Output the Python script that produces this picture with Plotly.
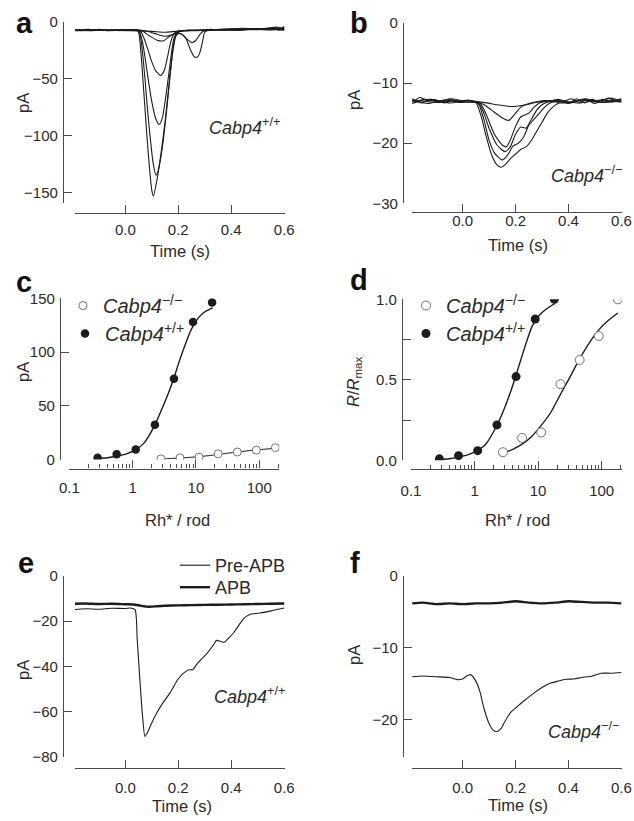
import plotly.graph_objects as go

W, H = 634, 821

# ---------------- data ----------------
# Panel a: Cabp4+/+ flash responses (time s, current pA)
a1_t = [-0.19, -0.15, -0.1, -0.05, 0.0, 0.04, 0.05, 0.06, 0.07, 0.08, 0.09, 0.1, 0.106, 0.12, 0.135, 0.15, 0.165, 0.178, 0.19, 0.2, 0.215, 0.23, 0.245, 0.26, 0.27, 0.28, 0.29, 0.3, 0.32, 0.36, 0.4, 0.45, 0.5, 0.55, 0.58, 0.6]
a1_v = [-7, -7.5, -6.5, -7.5, -7, -7, -9, -30, -62, -95, -125, -148, -153, -138, -115, -88, -55, -28, -13, -10, -11, -15, -24, -30.5, -31, -28, -19, -9, -6.5, -7, -6, -5.5, -6.5, -5, -7, -4]
a2_t = [-0.19, -0.14, -0.09, -0.04, 0.01, 0.045, 0.055, 0.065, 0.075, 0.085, 0.095, 0.105, 0.116, 0.125, 0.14, 0.155, 0.17, 0.182, 0.192, 0.205, 0.22, 0.235, 0.25, 0.265, 0.28, 0.295, 0.33, 0.38, 0.43, 0.48, 0.53, 0.57, 0.6]
a2_v = [-7.5, -6.5, -7.5, -6.8, -7.3, -7, -10, -27, -52, -80, -104, -124, -134.5, -130, -110, -80, -45, -20, -11, -10, -12, -15.5, -18, -16.5, -11.5, -8, -7, -6.2, -7, -5.8, -6, -4.5, -6.5]
a3_t = [-0.19, -0.13, -0.07, -0.01, 0.05, 0.065, 0.075, 0.085, 0.1, 0.115, 0.128, 0.14, 0.155, 0.17, 0.182, 0.195, 0.21, 0.26, 0.32, 0.38, 0.44, 0.5, 0.56, 0.6]
a3_v = [-6.8, -7.6, -7, -7.4, -7.5, -18, -32, -48, -70, -85, -90, -84, -62, -35, -16, -9, -7.5, -7.2, -6.6, -7.2, -6, -6.8, -5.5, -5]
a4_t = [-0.19, -0.12, -0.06, 0.0, 0.055, 0.07, 0.085, 0.1, 0.115, 0.134, 0.148, 0.16, 0.172, 0.185, 0.2, 0.25, 0.31, 0.37, 0.43, 0.49, 0.55, 0.6]
a4_v = [-7.2, -6.7, -7.6, -7, -7.5, -14, -24, -35, -43, -47, -42, -30, -17, -10, -8, -7.5, -7, -6.5, -6.8, -5.8, -6.5, -5.5]
a5_t = [-0.19, -0.11, -0.03, 0.06, 0.09, 0.12, 0.145, 0.17, 0.2, 0.22, 0.28, 0.34, 0.4, 0.46, 0.52, 0.6]
a5_v = [-7.4, -7, -7.3, -7.5, -12, -16, -16.5, -12, -8.5, -7.5, -7.2, -7, -6.3, -6.6, -6, -6.8]
a6_t = [-0.19, -0.1, -0.02, 0.07, 0.11, 0.15, 0.18, 0.21, 0.24, 0.3, 0.36, 0.42, 0.48, 0.54, 0.6]
a6_v = [-6.9, -7.5, -6.9, -7.5, -10, -12.5, -11, -8, -7, -7.6, -6.8, -7.2, -6.2, -6.9, -5.8]
a7_t = [-0.19, -0.08, 0.02, 0.1, 0.15, 0.2, 0.27, 0.35, 0.43, 0.51, 0.6]
a7_v = [-7.6, -7.1, -7.6, -8.2, -9, -8, -7.6, -6.8, -7.3, -6.4, -7.2]

# Panel b: Cabp4-/- flash responses
b1_t = [-0.19, -0.16, -0.13, -0.1, -0.07, -0.04, -0.01, 0.02, 0.05, 0.07, 0.09, 0.11, 0.13, 0.145, 0.16, 0.18, 0.2, 0.22, 0.24, 0.26, 0.28, 0.3, 0.32, 0.34, 0.36, 0.38, 0.41, 0.44, 0.47, 0.5, 0.53, 0.56, 0.6]
b1_v = [-13.2, -12.4, -13, -12.8, -13.3, -12.9, -13.1, -12.9, -13.2, -15.5, -19, -22, -23.6, -24, -23.6, -22.6, -21.8, -21, -20.6, -19.5, -18, -16.5, -15, -14, -13.4, -13.1, -12.6, -13.2, -12.8, -13.4, -12.7, -13.1, -12.8]
b2_t = [-0.19, -0.155, -0.12, -0.085, -0.05, -0.015, 0.02, 0.06, 0.08, 0.1, 0.12, 0.15, 0.17, 0.19, 0.21, 0.23, 0.25, 0.27, 0.29, 0.31, 0.33, 0.37, 0.4, 0.43, 0.46, 0.49, 0.52, 0.55, 0.58, 0.6]
b2_v = [-12.6, -13.3, -12.7, -13.1, -12.6, -13.2, -12.8, -13.5, -16, -19.5, -21.6, -22.8, -22, -20.5, -20, -19, -17, -16, -15, -14, -13.3, -12.9, -13.4, -12.6, -13.3, -12.7, -13.2, -12.5, -13, -12.7]
b3_t = [-0.19, -0.14, -0.09, -0.04, 0.01, 0.06, 0.08, 0.1, 0.13, 0.16, 0.18, 0.2, 0.22, 0.24, 0.26, 0.28, 0.3, 0.32, 0.36, 0.41, 0.46, 0.51, 0.56, 0.6]
b3_v = [-13.4, -12.7, -13.2, -12.6, -13.1, -13.3, -15, -17.5, -20.3, -21.4, -20.6, -18.5, -17.3, -17.5, -16, -14.5, -13.6, -13.2, -12.7, -13.3, -12.6, -13, -12.5, -13.1]
b4_t = [-0.19, -0.13, -0.07, -0.01, 0.065, 0.09, 0.12, 0.15, 0.165, 0.18, 0.2, 0.22, 0.25, 0.27, 0.29, 0.34, 0.4, 0.46, 0.52, 0.6]
b4_v = [-12.9, -13.4, -12.8, -13.2, -13.3, -15.3, -18.5, -20.3, -20.6, -19.5, -17.2, -15.6, -15, -14, -13.3, -12.9, -13.3, -12.7, -13.2, -12.6]
b5_t = [-0.19, -0.12, -0.05, 0.02, 0.07, 0.11, 0.15, 0.175, 0.2, 0.22, 0.25, 0.31, 0.38, 0.45, 0.52, 0.6]
b5_v = [-13.1, -12.7, -13.3, -12.9, -13.3, -14.5, -15.8, -16.2, -15, -14, -13.4, -12.9, -13.3, -12.8, -13.2, -13]
b6_t = [-0.19, -0.1, -0.01, 0.08, 0.13, 0.19, 0.24, 0.28, 0.36, 0.44, 0.52, 0.6]
b6_v = [-12.8, -13.2, -12.9, -13.2, -13.6, -13.9, -13.6, -13.2, -12.9, -13.3, -12.8, -13.2]

# Panels c, d: intensity-response
rh_wt = [0.28, 0.56, 1.12, 2.25, 4.5, 9.0, 18.0]
pa_wt = [1.6, 5.0, 9.3, 32.4, 75.2, 128.0, 146.0]
rh_ko = [2.8, 5.6, 11.2, 22.5, 45.0, 90.0, 180.0]
pa_ko = [0.6, 1.5, 2.2, 5.3, 7.0, 8.7, 11.0]
rr_wt = [0.009, 0.029, 0.06, 0.22, 0.52, 0.877, 1.0]
rr_ko = [0.05, 0.139, 0.173, 0.473, 0.623, 0.772, 1.0]

fit_wt_x = [0.28, 0.4, 0.56, 0.8, 1.1, 1.5, 2.2, 3.0, 3.8, 4.5, 5.5, 6.5, 8.0, 9.2, 11.0, 13.5, 16.0, 18.4]
fit_wt_pa = [0.8, 1.6, 3.0, 5.2, 9.0, 15.0, 31.0, 49.0, 64.0, 76.0, 92.0, 104.0, 118.0, 125.0, 132.0, 137.0, 139.5, 141.0]
fit_wt_rr = [0.005, 0.01, 0.02, 0.035, 0.06, 0.1, 0.21, 0.33, 0.44, 0.53, 0.64, 0.73, 0.83, 0.87, 0.91, 0.94, 0.96, 0.974]
fit_ko_x = [2.8, 4.0, 5.6, 8.0, 11.2, 16.0, 22.5, 32.0, 45.0, 64.0, 90.0, 128.0, 180.0]
fit_ko_pa = [0.4, 0.9, 1.4, 2.0, 2.7, 3.6, 4.7, 5.9, 7.0, 8.0, 8.9, 9.7, 10.4]
fit_ko_rr = [0.044, 0.068, 0.10, 0.15, 0.217, 0.30, 0.41, 0.52, 0.63, 0.73, 0.81, 0.87, 0.915]

# Panel e: Cabp4+/+ pre-APB / APB
e_pre_t = [-0.19, -0.15, -0.1, -0.05, 0.0, 0.02, 0.037, 0.045, 0.055, 0.065, 0.074, 0.085, 0.1, 0.118, 0.14, 0.17, 0.2, 0.22, 0.24, 0.255, 0.27, 0.29, 0.31, 0.33, 0.345, 0.36, 0.375, 0.39, 0.41, 0.43, 0.45, 0.47, 0.5, 0.53, 0.56, 0.6]
e_pre_v = [-14.8, -14.5, -14.7, -14.3, -14.4, -14.2, -15.0, -28, -46, -62, -71, -69, -65, -60.8, -56.5, -51.5, -45.5, -43, -41.5, -41.5, -39, -36.5, -34, -31, -28.5, -29, -29.3, -27.5, -25, -21.5, -18.5, -17, -16.5, -16, -15.2, -14.2]
e_apb_t = [-0.19, -0.15, -0.1, -0.05, 0.0, 0.03, 0.06, 0.09, 0.12, 0.15, 0.2, 0.25, 0.3, 0.35, 0.4, 0.45, 0.5, 0.55, 0.6]
e_apb_v = [-12.3, -12.2, -12.4, -12.3, -12.5, -12.6, -13.2, -13.6, -13.4, -13.2, -13.0, -12.9, -12.8, -12.7, -12.6, -12.5, -12.4, -12.3, -12.2]

# Panel f: Cabp4-/- pre-APB / APB
f_pre_t = [-0.19, -0.15, -0.1, -0.05, -0.02, 0.0, 0.015, 0.03, 0.05, 0.065, 0.08, 0.1, 0.115, 0.13, 0.145, 0.16, 0.18, 0.205, 0.23, 0.268, 0.3, 0.33, 0.36, 0.39, 0.42, 0.45, 0.49, 0.523, 0.56, 0.6]
f_pre_v = [-14.0, -13.9, -14.0, -14.1, -14.4, -14.3, -13.9, -13.7, -14.6, -16.0, -18.3, -20.5, -21.4, -21.6, -21.2, -20.2, -19.0, -18.2, -17.4, -16.3, -15.5, -14.9, -14.6, -14.35, -14.3, -14.1, -13.9, -13.5, -13.5, -13.4]
f_apb_t = [-0.19, -0.15, -0.1, -0.05, 0.0, 0.05, 0.1, 0.15, 0.2, 0.25, 0.3, 0.35, 0.4, 0.45, 0.5, 0.55, 0.6]
f_apb_v = [-3.8, -3.7, -3.9, -3.8, -3.9, -3.8, -3.8, -3.7, -3.5, -3.7, -3.8, -3.7, -3.5, -3.6, -3.7, -3.7, -3.8]

time_ticks = [0.0, 0.2, 0.4, 0.6]
time_labels = ["0.0", "0.2", "0.4", "0.6"]
log_ticks = [0.1, 1, 10, 100]
log_labels = ["0.1", "1", "10", "100"]

# ---------------- helpers ----------------
def fx(px):
    return px / W

def fy(py):
    return 1 - py / H

INK = "#1c1c1c"
AX = "#4a4a4a"
TXT = "#2a2a2a"
FONT = "Liberation Sans, Arial, sans-serif"

fig = go.Figure()

def line(x, y, xa, ya, width=1.1, name=None, legend=None, show=False):
    fig.add_trace(go.Scatter(x=x, y=y, mode="lines", line=dict(color=INK, width=width, shape="spline", smoothing=0.6),
                             xaxis=xa, yaxis=ya, showlegend=show, name=name, legend=legend, hoverinfo="skip"))

for t, v in [(a1_t, a1_v), (a2_t, a2_v), (a3_t, a3_v), (a4_t, a4_v), (a5_t, a5_v), (a6_t, a6_v), (a7_t, a7_v)]:
    line(t, v, "x", "y")
for t, v in [(b1_t, b1_v), (b2_t, b2_v), (b3_t, b3_v), (b4_t, b4_v), (b5_t, b5_v), (b6_t, b6_v)]:
    line(t, v, "x2", "y2")

ko_name = "<i>Cabp4</i><sup>−/−</sup>"
wt_name = "<i>Cabp4</i><sup>+/+</sup>"
open_marker = dict(symbol="circle", size=8, color="white", line=dict(color="#707070", width=1))
fill_marker = dict(symbol="circle", size=8.5, color=INK)

# panel c
line(fit_wt_x, fit_wt_pa, "x3", "y3", width=1.4)
line(fit_ko_x, fit_ko_pa, "x3", "y3", width=1.0)
fig.add_trace(go.Scatter(x=rh_ko, y=pa_ko, mode="markers", xaxis="x3", yaxis="y3", name=ko_name,
                         marker=open_marker, legend="legend", showlegend=True, hoverinfo="skip"))
fig.add_trace(go.Scatter(x=rh_wt, y=pa_wt, mode="markers", xaxis="x3", yaxis="y3", name=wt_name,
                         marker=fill_marker, legend="legend2", showlegend=True, hoverinfo="skip"))
# panel d
line(fit_wt_x, fit_wt_rr, "x4", "y4", width=1.4)
line(fit_ko_x, fit_ko_rr, "x4", "y4", width=1.4)
fig.add_trace(go.Scatter(x=rh_ko, y=rr_ko, mode="markers", xaxis="x4", yaxis="y4", name=ko_name,
                         marker=dict(open_marker, size=9), legend="legend3", showlegend=True, hoverinfo="skip"))
fig.add_trace(go.Scatter(x=rh_wt, y=rr_wt, mode="markers", xaxis="x4", yaxis="y4", name=wt_name,
                         marker=dict(fill_marker, size=9), legend="legend4", showlegend=True, hoverinfo="skip"))
# panel e
line(e_pre_t, e_pre_v, "x5", "y5", width=1.1, name="Pre-APB", legend="legend5", show=True)
line(e_apb_t, e_apb_v, "x5", "y5", width=2.4, name="APB", legend="legend6", show=True)
# panel f
line(f_pre_t, f_pre_v, "x6", "y6", width=1.1)
line(f_apb_t, f_apb_v, "x6", "y6", width=2.4)

# ---------------- axes ----------------
common = dict(showline=True, linecolor=AX, linewidth=1.3, ticks="inside", ticklen=8, tickwidth=1.3,
              tickcolor=AX, showgrid=False, zeroline=False, anchor="free", automargin=False,
              tickfont=dict(family=FONT, size=15, color=TXT))

def xaxis_time(x0, x1, ypos, r0, r1, standoff):
    return dict(common, domain=[fx(x0), fx(x1)], position=fy(ypos), range=[r0, r1],
                tickmode="array", tickvals=time_ticks, ticktext=time_labels, ticklabelstandoff=standoff)

def xaxis_log(x0, x1, ypos, r1, standoff):
    minor_vals = [m * d for d in (0.1, 1, 10, 100) for m in range(2, 10) if m * d < 210]
    return dict(common, type="log", domain=[fx(x0), fx(x1)], position=fy(ypos), range=[-1, r1],
                tickmode="array", tickvals=log_ticks, ticktext=log_labels, ticklabelstandoff=standoff,
                minor=dict(ticks="inside", ticklen=4, tickwidth=1.1, tickcolor=AX, tickvals=minor_vals))

def yaxis(y0, y1, xpos, r0, r1, vals, texts, minor=None):
    d = dict(common, domain=[fy(y1), fy(y0)], position=fx(xpos), range=[r0, r1],
             tickmode="array", tickvals=vals, ticktext=texts, ticklabelstandoff=2)
    if minor:
        d["minor"] = dict(ticks="inside", ticklen=8, tickwidth=1.3, tickcolor=AX, tickvals=minor)
    return d

def leg(x, y, size):
    return dict(x=fx(x), y=fy(y), xanchor="left", yanchor="top", bgcolor="rgba(0,0,0,0)",
                font=dict(family=FONT, size=size, color=TXT))

layout = dict(
    width=W, height=H, margin=dict(l=0, r=0, t=0, b=0, pad=0, autoexpand=False),
    paper_bgcolor="white", plot_bgcolor="rgba(0,0,0,0)",
    font=dict(family=FONT, color=TXT),
    xaxis=xaxis_time(75, 285, 213, -0.19, 0.603, 3),
    yaxis=yaxis(22, 203.3, 63, -159.3, 0, [0, -50, -100, -150], ["0", "−50", "−100", "−150"]),
    xaxis2=xaxis_time(412, 621.5, 212, -0.191, 0.6, -5),
    yaxis2=yaxis(23, 203.3, 403, -30, 0, [0, -10, -20, -30], ["0", "−10", "−20", "−30"]),
    xaxis3=xaxis_log(69.3, 279.3, 468.5, 2.317, 5),
    yaxis3=yaxis(298.3, 459.5, 60, 0, 150, [0, 50, 100, 150], ["0", "50", "100", "150"]),
    xaxis4=xaxis_log(411, 622, 469.3, 2.32, 8),
    yaxis4=yaxis(299.3, 460.3, 402, 0, 1, [0, 0.5, 1], ["0.0", "0.5", "1.0"], minor=[0.25, 0.75]),
    xaxis5=xaxis_time(75, 285, 767.7, -0.19, 0.603, 6),
    yaxis5=yaxis(576, 756.7, 63, -80, 0, [0, -20, -40, -60, -80], ["0", "−20", "−40", "−60", "−80"]),
    xaxis6=xaxis_time(412, 621.5, 767.7, -0.191, 0.6, 6),
    yaxis6=yaxis(576, 756.7, 403, -25.1, 0, [0, -10, -20], ["0", "−10", "−20"]),
    legend=leg(63, 286, 20),
    legend2=leg(65, 314, 20),
    legend3=leg(406, 286, 20),
    legend4=leg(406, 314, 20),
    legend5=leg(175, 547, 18),
    legend6=leg(175, 569, 18),
    showlegend=True,
)
fig.update_layout(**layout)

# ---------------- text annotations ----------------
ann = []
def txt(x, y, s, size, xanchor="center", angle=0, bold=False):
    ann.append(dict(x=fx(x), y=fy(y), xref="paper", yref="paper", text=("<b>%s</b>" % s) if bold else s,
                    showarrow=False, xanchor=xanchor, yanchor="middle", textangle=angle,
                    font=dict(family=FONT, size=size, color="#111" if bold else TXT)))

for lab, x, y in [("a", 14, 23), ("b", 348, 23), ("c", 14, 282), ("d", 348, 280), ("e", 16, 563), ("f", 348, 563)]:
    txt(x, y, lab, 29, xanchor="left", bold=True)

txt(180, 251, "Time (s)", 16.5)
txt(518, 245, "Time (s)", 16.5)
txt(182, 806, "Time (s)", 16.5)
txt(518, 805, "Time (s)", 16.5)
txt(177, 520, "Rh* / rod", 16.5)
txt(517, 520, "Rh* / rod", 16.5)

txt(23, 103, "pA", 16.5, angle=-90)
txt(354, 100, "pA", 16.5, angle=-90)
txt(23, 372, "pA", 16.5, angle=-90)
txt(354, 382, "<i>R</i>/<i>R</i><sub>max</sub>", 16.5, angle=-90)
txt(23, 670, "pA", 16.5, angle=-90)
txt(354, 655, "pA", 16.5, angle=-90)

txt(207, 127, wt_name, 18, xanchor="left")
txt(549, 175, ko_name, 18, xanchor="left")
txt(212, 695, wt_name, 18, xanchor="left")
txt(546, 730, ko_name, 18, xanchor="left")

fig.update_layout(annotations=ann)

fig.write_html("out.html", config={"displayModeBar": False},
               post_script="document.body.style.margin='0';document.body.style.overflow='hidden';")
